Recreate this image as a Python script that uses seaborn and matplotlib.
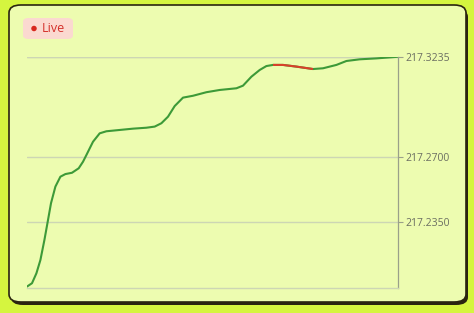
import matplotlib
matplotlib.use("Agg")
import matplotlib.pyplot as plt
from matplotlib.patches import FancyBboxPatch, Ellipse
import seaborn as sns
import pandas as pd

# ---- data ----
t = [0, 5, 9.4, 13.4, 17.4, 20.7, 24, 28.4, 33.4, 38.4, 45, 51.7, 56, 59.4,
     66, 72.7, 79.4, 92.7, 106, 119.4, 127.7, 134.4, 141, 147.7, 152.7, 156,
     166, 179.4, 192.7, 209.4, 216, 224.4, 232.7, 239.4, 246, 256, 269.4, 286,
     296, 309.4, 319.4, 332.7, 349.4, 369.4, 371]
price = [217.2005, 217.2023, 217.2076, 217.2147, 217.2254, 217.2352, 217.2451,
         217.2540, 217.2593, 217.2607, 217.2614, 217.2638, 217.2673, 217.2709,
         217.2780, 217.2825, 217.2836, 217.2843, 217.2850, 217.2855, 217.2861,
         217.2879, 217.2914, 217.2971, 217.2998, 217.3016, 217.3026, 217.3045,
         217.3057, 217.3066, 217.3080, 217.3128, 217.3164, 217.3185, 217.3191,
         217.3191, 217.3182, 217.3169, 217.3173, 217.3191, 217.3212, 217.3221,
         217.3226, 217.3234, 217.3235]
red_start, red_end = 246, 286
y_ticks = [217.2350, 217.2700, 217.3235]
y_min = 217.1999
badge_text = "Live"

sns.set_theme(style="white")
plt.rcParams['font.family'] = ['Open Sans', 'DejaVu Sans']

df = pd.DataFrame({"t": t, "price": price})
df_red = df[(df.t >= red_start) & (df.t <= red_end)]

fig = plt.figure(figsize=(4.74, 3.13), dpi=100)
fig.patch.set_facecolor("#d5f53f")
W, H = 474, 313

def fx(px):
    return px / W

def fy(py):
    return 1 - py / H

# shadow + card
shadow = FancyBboxPatch((fx(11), fy(305)), fx(457), 296 / H,
                        boxstyle="round,pad=0,rounding_size=0.025",
                        transform=fig.transFigure, facecolor="#2a2410",
                        edgecolor="none", zorder=0)
fig.patches.append(shadow)
card = FancyBboxPatch((fx(9), fy(302)), fx(457), 297 / H,
                      boxstyle="round,pad=0,rounding_size=0.025",
                      transform=fig.transFigure, facecolor="#edfcb0",
                      edgecolor="#2a2410", linewidth=1.2, zorder=1)
fig.patches.append(card)

# badge
badge = FancyBboxPatch((fx(23), fy(39)), fx(50), 21 / H,
                       boxstyle="round,pad=0,rounding_size=0.012",
                       transform=fig.transFigure, facecolor="#fbd9d0",
                       edgecolor="none", zorder=2)
fig.patches.append(badge)
fig.patches.append(Ellipse((fx(34), fy(28.5)), 5.5 / W, 5.5 / H,
                           transform=fig.transFigure, facecolor="#d8281e",
                           edgecolor="none", zorder=3))
fig.text(fx(41.5), fy(29), badge_text, color="#d4302a", fontsize=9,
         va="center", ha="left", zorder=3)

ax = fig.add_axes([fx(27), fy(287.7), fx(398 - 27), (287.7 - 56.7) / H])
ax.set_facecolor("none")
ax.set_zorder(2)

sns.lineplot(data=df, x="t", y="price", ax=ax, color="#3d9a38", linewidth=1.5,
             solid_joinstyle="round", solid_capstyle="round")
sns.lineplot(data=df_red, x="t", y="price", ax=ax, color="#d9402a", linewidth=1.5,
             solid_joinstyle="round", solid_capstyle="butt")

ax.set_xlim(0, 371)
ax.set_ylim(y_min, y_ticks[-1])
ax.set_xticks([])
ax.set_yticks(y_ticks)
ax.set_yticklabels([f"{v:.4f}" for v in y_ticks])
ax.yaxis.tick_right()
ax.tick_params(axis="y", direction="out", length=3.5, width=0.8, color="#9aa08a",
               labelsize=7.5, labelcolor="#6b6e62", pad=1.5)
ax.grid(axis="y", color="#cdd6b4", linewidth=1)
ax.set_xlabel("")
ax.set_ylabel("")
for s in ["top", "left"]:
    ax.spines[s].set_visible(False)
ax.spines["right"].set_color("#9aa08a")
ax.spines["right"].set_linewidth(0.9)
ax.spines["bottom"].set_color("#cdd6b4")
ax.spines["bottom"].set_linewidth(1)
ax.axhline(y_ticks[-1], color="#cdd6b4", linewidth=1, zorder=0)

fig.savefig("out.png", dpi=100, facecolor=fig.get_facecolor())
